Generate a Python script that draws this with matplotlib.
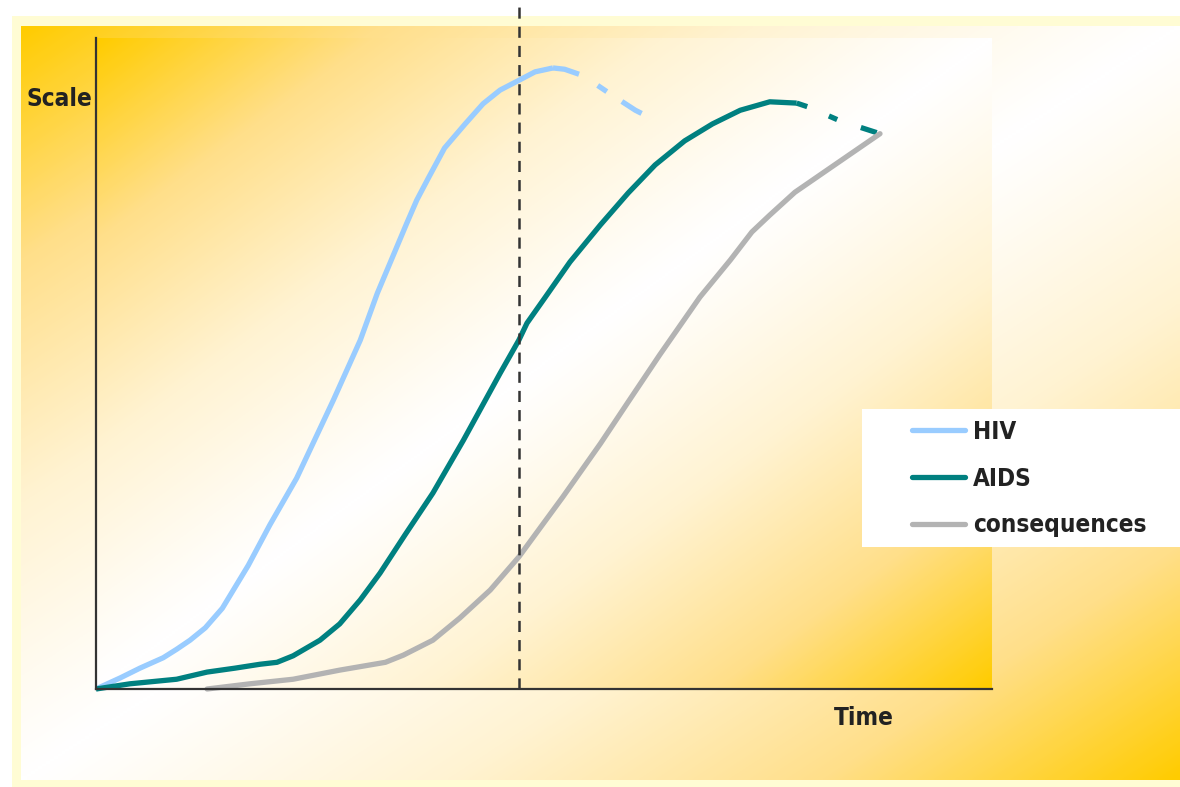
import numpy as np
import matplotlib
matplotlib.use("Agg")
import matplotlib.pyplot as plt
from matplotlib import font_manager
from matplotlib.colors import LinearSegmentedColormap
from matplotlib.patches import Rectangle

plt.rcParams['lines.scale_dashes'] = False

# data (time 0-100, scale 0-100)
hiv_x = [0, 2.7, 4.9, 7.5, 9.0, 10.5, 12.2, 14.1, 17.0, 19.4, 22.4, 26.5, 29.5,
         31.4, 34.7, 35.8, 37.1, 38.9, 41.2, 43.2, 45.1, 47.2, 49.0, 51.0,
         52.3, 54.4, 57.4, 60.2, 62.5]
hiv_y = [0, 1.7, 3.2, 4.8, 6.1, 7.5, 9.4, 12.4, 19.0, 25.2, 32.4, 44.4, 53.6,
         60.8, 71.6, 75.1, 78.5, 83.1, 86.8, 89.9, 92.0, 93.5, 94.8, 95.4,
         95.2, 94.2, 91.4, 88.9, 87.3]
hiv_split = 23  # index where projection starts

aids_x = [0, 3.8, 9.0, 12.4, 15.5, 18.3, 20.2, 22.0, 25.0, 27.2, 29.5, 31.7, 34.5,
          37.6, 41.0, 45.1, 47.2, 48.1, 50.1, 52.9, 56.3, 59.4, 62.4, 65.7,
          68.8, 71.9, 75.2, 78.2,
          79.5, 83.0, 87.5]
aids_y = [0, 0.8, 1.5, 2.6, 3.2, 3.8, 4.1, 5.1, 7.5, 10.0, 13.7, 17.8, 23.7,
          30.1, 38.2, 48.5, 53.6, 56.2, 60.1, 65.6, 71.3, 76.2, 80.5, 84.2,
          86.8, 88.9, 90.2, 90.0,
          89.4, 87.3, 85.3]
aids_split = 27

cons_x = [12.4, 17.2, 22.0, 27.2, 32.3, 34.3, 37.6, 40.6, 44.0, 47.2, 52.1, 56.3,
          59.3, 62.9, 67.4, 70.8, 73.2, 75.2, 78.0, 81.9, 87.5]
cons_y = [0, 0.8, 1.5, 2.9, 4.1, 5.2, 7.5, 10.9, 15.2, 20.3, 29.5, 37.7,
          43.9, 51.3, 60.2, 65.9, 70.2, 72.8, 76.3, 80.0, 85.3]

now_x = 47.2
labels = ['HIV', 'AIDS', 'consequences']
colors = ['#99CCFF', '#008080', '#B3B3B3']

# pick a narrow font if one is installed
names = {f.name for f in font_manager.fontManager.ttflist}
if 'Liberation Sans Narrow' in names:
    fam, stretch, fsize = ['Liberation Sans Narrow', 'DejaVu Sans'], 'normal', 19
else:
    fam, stretch, fsize = ['DejaVu Sans'], 'condensed', 17.5
plt.rcParams['font.family'] = fam
font = dict(fontsize=fsize, fontweight='bold', fontstretch=stretch, color='#222222')

W, H = 1180, 787
fig = plt.figure(figsize=(W / 100, H / 100), dpi=100)

# background layer in pixel units
bg = fig.add_axes([0, 0, 1, 1], zorder=0)
bg.set_xlim(0, W)
bg.set_ylim(H, 0)
bg.axis('off')

cmap = LinearSegmentedColormap.from_list('gold', ['#FFFFFF', '#FFF3D2', '#FFDF8A', '#FFCC00'])
u, v = np.meshgrid(np.linspace(0, 1, 300), np.linspace(0, 1, 300))
grad = np.abs(u + v - 1) ** 1.1

bg.add_patch(Rectangle((12, 16), W - 12, H - 16, color='#FFFCD4', lw=0, zorder=0))
bg.imshow(grad, cmap=cmap, vmin=0, vmax=1, extent=(21, W, 780, 26), origin='upper',
          aspect='auto', interpolation='bilinear', zorder=1)
bg.imshow(grad, cmap=cmap, vmin=0, vmax=1, extent=(96, 992, 689, 38), origin='upper',
          aspect='auto', interpolation='bilinear', zorder=2)
bg.add_patch(Rectangle((862, 409), W - 862, 138, color='white', lw=0, zorder=3))

# main chart
ax = fig.add_axes([96 / W, (H - 689) / H, 896 / W, 651 / H], zorder=1)
ax.set_facecolor('none')
ax.set_xlim(0, 100)
ax.set_ylim(0, 100)
for s in ['top', 'right']:
    ax.spines[s].set_visible(False)
for s in ['left', 'bottom']:
    ax.spines[s].set_color('#333333')
    ax.spines[s].set_linewidth(1.6)
ax.set_xticks([])
ax.set_yticks([])

dashes = [(0, (19.4, 15.8, 7.9, 13, 16.6, 15)), (0, (8, 17, 6.5, 18, 12, 17)), None]
series = [(hiv_x, hiv_y, hiv_split), (aids_x, aids_y, aids_split), (cons_x, cons_y, None)]
handles = []
for (xs, ys, split), c, lab, ds in zip(series, colors, labels, dashes):
    if split is None:
        h, = ax.plot(xs, ys, color=c, lw=3.8, solid_capstyle='round',
                     solid_joinstyle='round', clip_on=False, label=lab)
    else:
        h, = ax.plot(xs[:split + 1], ys[:split + 1], color=c, lw=3.8,
                     solid_capstyle='butt', solid_joinstyle='round', clip_on=False, label=lab)
        ax.plot(xs[split:], ys[split:], color=c, lw=3.8, linestyle=ds,
                dash_capstyle='butt', clip_on=False)
    handles.append(h)

ax.axvline(now_x, ymin=0, ymax=1.051, color='#333333', lw=1.8,
           linestyle=(0, (8, 5.8)), clip_on=False, zorder=5)

fig.text(27 / W, 1 - 99 / H, 'Scale', ha='left', va='center', **font)
fig.text(834 / W, 1 - 718 / H, 'Time', ha='left', va='center', **font)

leg = fig.legend(handles=handles, labels=labels, loc='upper left',
                 bbox_to_anchor=(912 / W, 1 - 420 / H), frameon=False,
                 prop=dict(size=fsize, weight='bold', stretch=stretch, family=fam),
                 handlelength=2.2, handletextpad=0.3,
                 labelspacing=0.93, borderpad=0, borderaxespad=0)
for t in leg.get_texts():
    t.set_color('#222222')
for l in leg.get_lines():
    l.set_solid_capstyle('round')

fig.savefig('out.png', dpi=100)
